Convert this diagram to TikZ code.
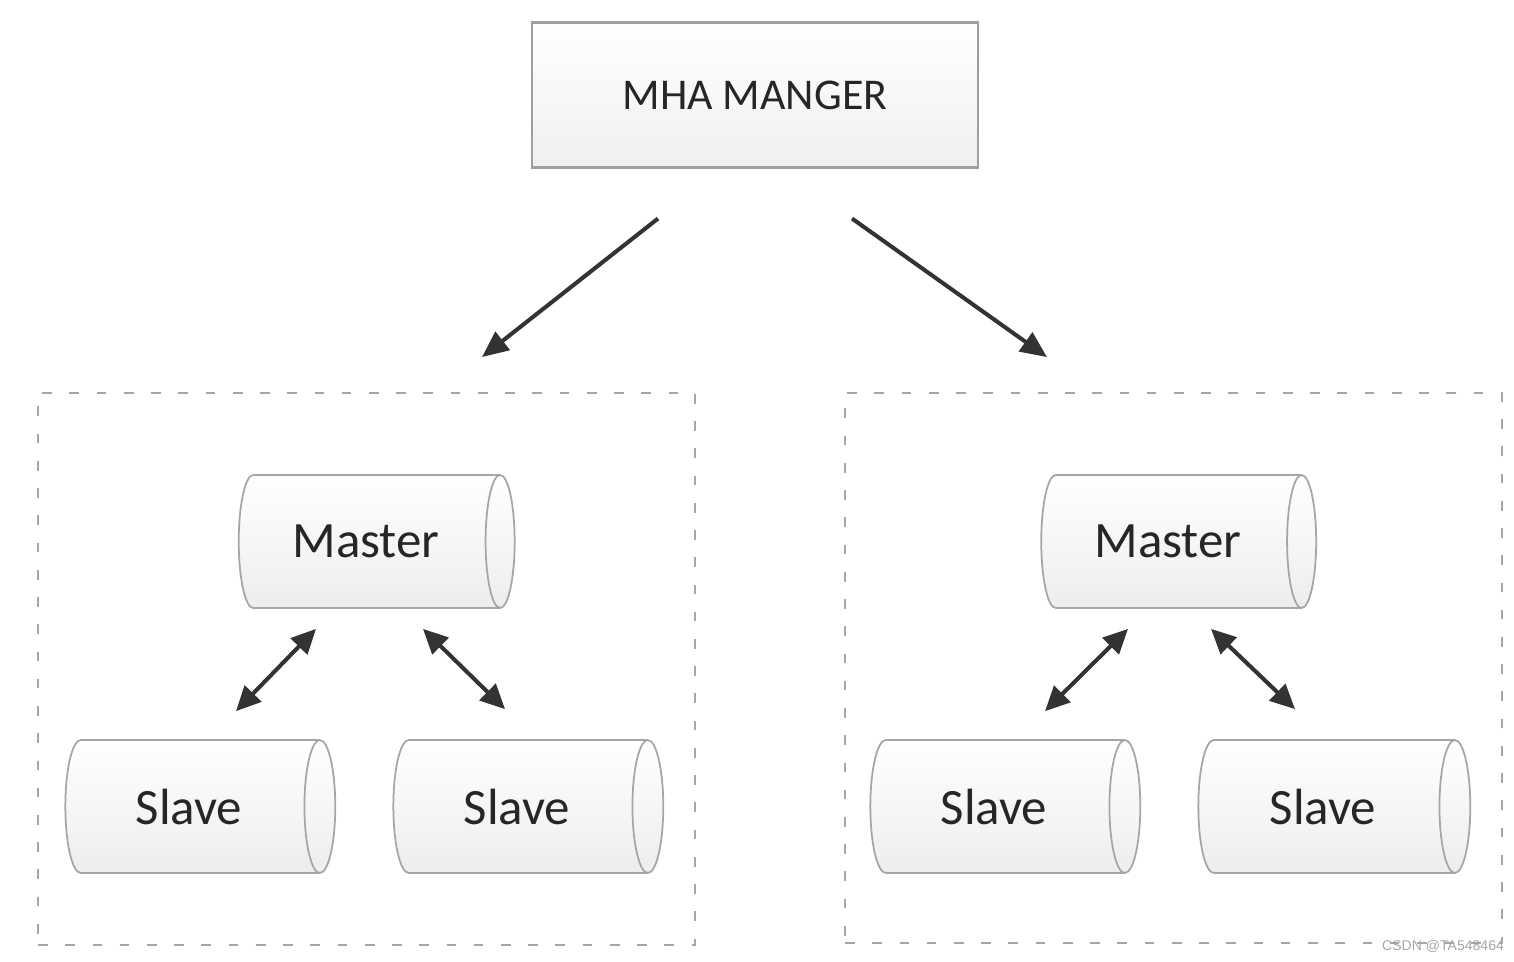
\documentclass[tikz,border=0pt]{standalone}
\usepackage{fontspec}
\setmainfont{Carlito}
\newfontfamily\wmfont{Liberation Sans}
\usetikzlibrary{shapes.geometric, arrows.meta, calc}

\begin{document}
\begin{tikzpicture}[x=0.02cm,y=-0.02cm,
    mgrbox/.style={draw=gray!75, line width=1.2pt, top color=white, bottom color=gray!12,
        minimum width=8.92cm, minimum height=2.9cm, font=\fontsize{25}{29}\selectfont, text=black!85},
    dbnode/.style={cylinder, shape border rotate=0, aspect=0.65, draw=gray!70, line width=1pt,
        top color=white, bottom color=gray!14, minimum width=2.66cm,
        font=\fontsize{29}{33}\selectfont, text=black!85},
    grpbox/.style={draw=gray!70, line width=1.1pt, dash pattern=on 5.5pt off 10pt},
    bigarrow/.style={draw=black!80, line width=2.3pt, -{Triangle[length=15pt,width=13pt]}},
    dblarrow/.style={draw=black!80, line width=2.3pt, {Triangle[length=14pt,width=13pt]}-{Triangle[length=14pt,width=13pt]}}]
    \useasboundingbox (0,0) rectangle (1514,962);

    % manager on top
    \node[mgrbox] (mgr) at (755,95) {MHA MANGER};

    % the two groups
    \node[grpbox, minimum width=13.14cm, minimum height=11.04cm] (gL) at (366.5,669) {};
    \node[grpbox, minimum width=13.14cm, minimum height=11.0cm] (gR) at (1173.5,668) {};

    % left group
    \node[dbnode, minimum height=5.52cm] (mL) at (366,541.5) {Master};
    \node[dbnode, minimum height=5.4cm] (sL1) at (189,806.5) {Slave};
    \node[dbnode, minimum height=5.4cm] (sL2) at (517,806.5) {Slave};

    % right group
    \node[dbnode, minimum height=5.5cm] (mR) at (1168,541.5) {Master};
    \node[dbnode, minimum height=5.4cm] (sR1) at (994,806.5) {Slave};
    \node[dbnode, minimum height=5.44cm] (sR2) at (1323,806.5) {Slave};

    % manager -> groups
    \draw[bigarrow] ($(mgr.south)+(-97,50)$) -- ($(gL.north)+(115.5,-35)$);
    \draw[bigarrow] ($(mgr.south)+(97,50)$) -- ($(gR.north)+(-126.5,-35)$);

    % master <-> slaves
    \draw[dblarrow] ($(mL.south)+(-50,20)$) -- ($(sL1.north)+(47,-28)$);
    \draw[dblarrow] ($(mL.south)+(57,20)$) -- ($(sL2.north)+(-12,-30)$);
    \draw[dblarrow] ($(mR.south)+(-40,20)$) -- ($(sR1.north)+(51,-28)$);
    \draw[dblarrow] ($(mR.south)+(43,20)$) -- ($(sR2.north)+(-28,-30)$);

    \node[text=gray!70, font=\wmfont\fontsize{8}{9}\selectfont] (wm) at (1443,946) {CSDN @TA548464};
\end{tikzpicture}
\end{document}
